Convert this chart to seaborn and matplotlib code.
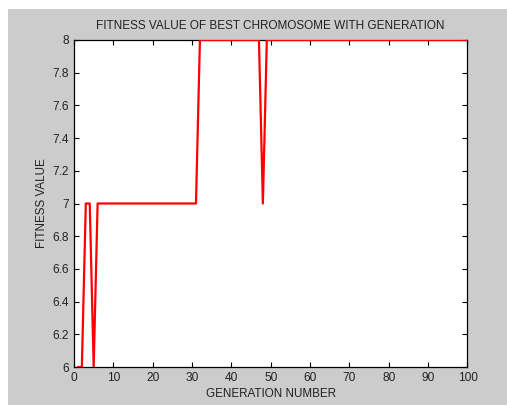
import numpy as np
import pandas as pd
import matplotlib
matplotlib.use("Agg")
import matplotlib.pyplot as plt
from matplotlib.patches import Rectangle
import seaborn as sns

# ---- data ----
generation = np.arange(1, 101)
fitness = [
    6, 6, 7, 7, 6, 7, 7, 7, 7, 7,
    7, 7, 7, 7, 7, 7, 7, 7, 7, 7,
    7, 7, 7, 7, 7, 7, 7, 7, 7, 7,
    7, 8, 8, 8, 8, 8, 8, 8, 8, 8,
    8, 8, 8, 8, 8, 8, 8, 7, 8, 8,
    8, 8, 8, 8, 8, 8, 8, 8, 8, 8,
    8, 8, 8, 8, 8, 8, 8, 8, 8, 8,
    8, 8, 8, 8, 8, 8, 8, 8, 8, 8,
    8, 8, 8, 8, 8, 8, 8, 8, 8, 8,
    8, 8, 8, 8, 8, 8, 8, 8, 8, 8,
]
x_ticks = [0, 10, 20, 30, 40, 50, 60, 70, 80, 90, 100]
x_tick_labels = ["0", "10", "20", "30", "40", "50", "60", "70", "80", "90", "100"]
y_ticks = [6, 6.2, 6.4, 6.6, 6.8, 7, 7.2, 7.4, 7.6, 7.8, 8]
y_tick_labels = ["6", "6.2", "6.4", "6.6", "6.8", "7", "7.2", "7.4", "7.6", "7.8", "8"]

title = "FITNESS VALUE OF BEST CHROMOSOME WITH GENERATION"
xlabel = "GENERATION NUMBER"
ylabel = "FITNESS VALUE"

df = pd.DataFrame({"generation": generation, "fitness": fitness})

sns.set_theme(style="white")
plt.rcParams["font.family"] = ["Liberation Sans", "DejaVu Sans"]

W, H = 507, 405
fig = plt.figure(figsize=(W / 100, H / 100), dpi=100)
fig.patch.set_facecolor("white")
bg = Rectangle((8 / W, 0), 1 - 8 / W, 1 - 9 / H,
               transform=fig.transFigure, facecolor="#cccccc",
               edgecolor="none", zorder=-10)
fig.add_artist(bg)

ax = fig.add_axes([74 / W, 1 - 367 / H, (467.5 - 74) / W, (367 - 40) / H])
ax.set_zorder(5)
ax.set_facecolor("white")

sns.lineplot(data=df, x="generation", y="fitness", ax=ax, color="#ff0000",
             linewidth=1.6, zorder=3)

ax.set_xlim(0, 100)
ax.set_ylim(6, 8)
ax.set_xticks(x_ticks)
ax.set_xticklabels(x_tick_labels)
ax.set_yticks(y_ticks)
ax.set_yticklabels(y_tick_labels)

ax.tick_params(direction="in", length=3.6, width=0.8, color="black",
               labelsize=8.6, labelcolor="#222222", top=True, right=True,
               bottom=True, left=True, pad=3.5)

for s in ax.spines.values():
    s.set_visible(True)
    s.set_color("black")
    s.set_linewidth(0.9)

ax.set_title(title, fontsize=8.5, color="#222222", pad=8)
ax.set_xlabel(xlabel, fontsize=8.4, color="#222222", labelpad=3)
ax.set_ylabel(ylabel, fontsize=8.4, color="#222222", labelpad=3.5)

fig.savefig("out.png", dpi=100, facecolor=fig.get_facecolor())
